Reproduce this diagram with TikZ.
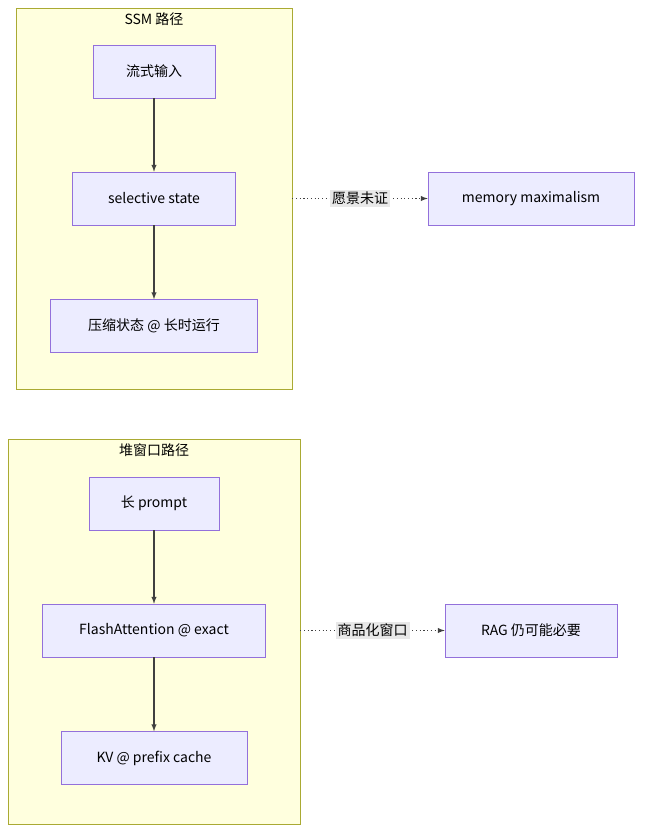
\documentclass[tikz,border=0pt]{standalone}
\usepackage{fontspec}
\setmainfont{Noto Sans CJK SC}
\usetikzlibrary{positioning}
\definecolor{boxfill}{HTML}{ECECFF}
\definecolor{boxline}{HTML}{9370DB}
\definecolor{clfill}{HTML}{FFFFDE}
\definecolor{clline}{HTML}{AAAA33}
\definecolor{lblbg}{HTML}{E8E8E8}
\begin{document}
\begin{tikzpicture}[x=0.75pt, y=-0.75pt, font=\fontsize{10.5}{12}\selectfont,
    stepnode/.style={rectangle, draw=boxline, fill=boxfill, minimum height=39.75pt, inner xsep=14pt},
    groupnode/.style={rectangle, draw=clline, fill=clfill},
    flow/.style={->, >=latex, draw=black!75, thick},
    hint/.style={->, >=latex, draw=black!75, thick, dotted},
    hintlabel/.style={fill=lblbg, inner sep=1.5pt}]
    \useasboundingbox (0,0) rectangle (650,840);
    % Groups
    \node[groupnode, minimum width=207pt, minimum height=285.75pt] (ssm) at (154,198.5) {};
    \node at (154,19) {SSM 路径};
    \node[groupnode, minimum width=219pt, minimum height=288.75pt] (heap) at (154,631.5) {};
    \node at (154,450) {堆窗口路径};
    % Nodes
    \node[stepnode, minimum width=91.5pt] (stream) at (154,71.5) {流式输入};
    \node[stepnode, minimum width=122pt] (sel) at (154,198.5) {selective state};
    \node[stepnode, minimum width=155pt] (comp) at (154,326) {压缩状态 @ 长时运行};
    \node[stepnode, minimum width=154.5pt] (mem) at (531,198.5) {memory maximalism};
    \node[stepnode, minimum width=97.5pt] (prompt) at (154,503.5) {长 prompt};
    \node[stepnode, minimum width=167pt] (flash) at (154,630.5) {FlashAttention @ exact};
    \node[stepnode, minimum width=139.5pt] (kv) at (154,758) {KV @ prefix cache};
    \node[stepnode, minimum width=129pt] (rag) at (531,630.5) {RAG 仍可能必要};
    % Lines
    \draw[flow] (stream) -- (sel);
    \draw[flow] (sel) -- (comp);
    \draw[flow] (prompt) -- (flash);
    \draw[flow] (flash) -- (kv);
    \draw[hint] (ssm.east |- mem) -- node[hintlabel] {愿景未证} (mem);
    \draw[hint] (heap.east |- rag) -- node[hintlabel] {商品化窗口} (rag);
\end{tikzpicture}
\end{document}
